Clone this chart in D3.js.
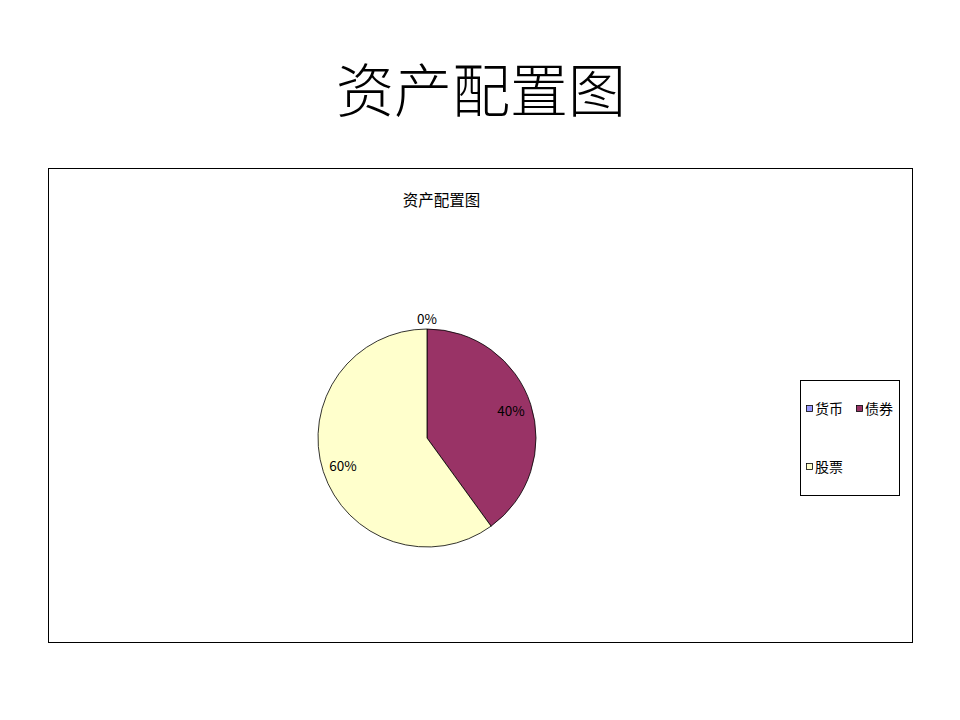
<!DOCTYPE html>
<html>
<head>
<meta charset="utf-8">
<script src="https://cdn.jsdelivr.net/npm/d3@7"></script>
<style>
  body { margin: 0; background: #fff; }
  text { font-family: "Noto Sans CJK SC", "DejaVu Sans", sans-serif; }
</style>
</head>
<body>
<div id="chart"></div>
<script>
;(function () {

    // data
    var categories = ['货币', '债券', '股票'];
    var shares = [0, 40, 60];
    var colors = ['#9999FF', '#993366', '#FFFFCC'];
    var pageTitle = '资产配置图';
    var chartTitle = '资产配置图';

    var width = 960, height = 720;

    var svg = d3.select('#chart').append('svg')
        .attr('width', width)
        .attr('height', height);

    svg.append('rect')
        .attr('width', width)
        .attr('height', height)
        .attr('fill', '#fff');

    // big slide title
    svg.append('text')
        .attr('x', 481)
        .attr('y', 112)
        .attr('text-anchor', 'middle')
        .attr('font-size', 58)
        .attr('font-weight', 300)
        .attr('fill', '#000')
        .text(pageTitle);

    // chart frame
    svg.append('rect')
        .attr('x', 48.5)
        .attr('y', 168.5)
        .attr('width', 864)
        .attr('height', 474)
        .attr('fill', '#fff')
        .attr('stroke', '#000')
        .attr('stroke-width', 1);

    svg.append('text')
        .attr('x', 441.5)
        .attr('y', 206)
        .attr('text-anchor', 'middle')
        .attr('font-size', 15.5)
        .text(chartTitle);

    // pie
    var cx = 427, cy = 438, R = 109;
    var data = categories.map(function (c, i) {
        return { name: c, value: shares[i], color: colors[i] };
    });

    var pie = d3.pie().sort(null).value(function (d) { return d.value; });
    var arcs = pie(data);
    var arc = d3.arc().innerRadius(0).outerRadius(R);
    var labelArc = d3.arc().innerRadius(R * 0.81).outerRadius(R * 0.81);
    var outerArc = d3.arc().innerRadius(R + 10).outerRadius(R + 10);
    var total = d3.sum(shares);

    var g = svg.append('g').attr('transform', 'translate(' + cx + ',' + cy + ')');

    g.selectAll('path')
        .data(arcs)
        .enter()
        .append('path')
        .attr('d', arc)
        .attr('fill', function (d) { return d.data.color; })
        .attr('stroke', '#000')
        .attr('stroke-width', 0.8);

    g.selectAll('text.lbl')
        .data(arcs)
        .enter()
        .append('text')
        .attr('class', 'lbl')
        .attr('transform', function (d) {
            var p = d.data.value === 0 ? outerArc.centroid(d) : labelArc.centroid(d);
            return 'translate(' + p + ')';
        })
        .attr('text-anchor', 'middle')
        .attr('dy', '0.4em')
        .attr('font-size', 13.5)
        .text(function (d) { return Math.round(d.data.value / total * 100) + '%'; });

    // legend
    var lg = svg.append('g');
    lg.append('rect')
        .attr('x', 800.5)
        .attr('y', 380.5)
        .attr('width', 99)
        .attr('height', 115)
        .attr('fill', '#fff')
        .attr('stroke', '#000');

    var legendPos = [[806, 409], [856, 409], [806, 467]];
    var items = lg.selectAll('g.item')
        .data(data)
        .enter()
        .append('g')
        .attr('class', 'item')
        .attr('transform', function (d, i) {
            return 'translate(' + legendPos[i] + ')';
        });

    items.append('rect')
        .attr('x', 0.5)
        .attr('y', -3.5)
        .attr('width', 6)
        .attr('height', 6)
        .attr('fill', function (d) { return d.color; })
        .attr('stroke', '#000')
        .attr('stroke-width', 0.8);

    items.append('text')
        .attr('x', 9)
        .attr('dy', '0.36em')
        .attr('font-size', 14)
        .text(function (d) { return d.name; });

})();
</script>
</body>
</html>
